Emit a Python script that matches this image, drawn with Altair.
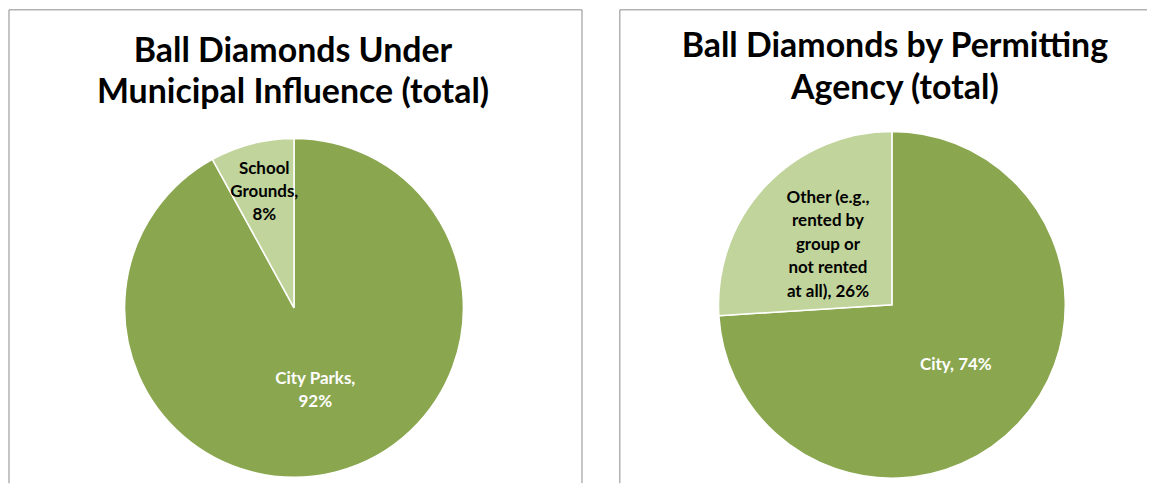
import altair as alt
import pandas as pd

# ---- data ----
left_title = ["Ball Diamonds Under", "Municipal Influence (total)"]
left_cats = ["City Parks", "School Grounds"]
left_label_text = ["City Parks,\n", "School\nGrounds,\n"]
left_vals = [92, 8]

right_title = ["Ball Diamonds by Permitting", "Agency (total)"]
right_cats = ["City", "Other"]
right_label_text = ["City, ", "Other (e.g.,\nrented by\ngroup or\nnot rented\nat all),  "]
right_vals = [74, 26]

DARK = "#8AA64F"
LIGHT = "#C0D49B"
BORDER = "#8C8C8C"
FONT = "Lato"
LH = 23.5

PW_L, PW_R, PH = 575, 529, 475


def panel(title, cats, label_text, vals, width, cx, cy, r, label_r, small_cat, right_border, tx, ty):
    df = pd.DataFrame({
        "i": list(range(len(cats))),
        "cat": cats,
        "label": label_text,
        "value": vals,
    })
    base = alt.Chart(df)
    theta = alt.Theta("value:Q", stack=True)
    order = alt.Order("i:Q")
    arc = base.mark_arc(stroke="white", strokeWidth=1.5).encode(
        theta=theta,
        order=order,
        color=alt.Color("cat:N", scale=alt.Scale(domain=cats, range=[DARK, LIGHT]), legend=None),
        radius=alt.value(r),
        x=alt.value(cx),
        y=alt.value(cy),
    )
    txt = base.transform_joinaggregate(
        total="sum(value)"
    ).transform_window(
        cum="sum(value)", sort=[alt.SortField("i")]
    ).transform_calculate(
        lines="split(datum.label + datum.value + '%', '\\n')",
    ).transform_calculate(
        mid="(datum.cum - datum.value / 2) / datum.total * 2 * PI",
        lr=f"datum.cat == '{small_cat}' ? {label_r[1]} : {label_r[0]}",
        tc=f"datum.cat == '{small_cat}' ? 'black' : 'white'",
        nl="length(datum.lines)",
    ).transform_calculate(
        px=f"{cx} + datum.lr * sin(datum.mid)",
        py=f"{cy} - datum.lr * cos(datum.mid) - (datum.nl - 1) * {LH} / 2",
    ).mark_text(font=FONT, fontWeight="bold", fontSize=17, lineHeight=LH,
                align="center", baseline="middle").encode(
        text="lines:N",
        x=alt.X("px:Q", scale=None, axis=None),
        y=alt.Y("py:Q", scale=None, axis=None),
        color=alt.Color("tc:N", scale=None),
    )
    tdf = pd.DataFrame({"t": [title]})
    ttl = alt.Chart(tdf).mark_text(font=FONT, fontWeight="bold", fontSize=34, lineHeight=42,
                                   align="center", baseline="middle", color="black").encode(
        text="t:N", x=alt.value(tx), y=alt.value(ty),
    )
    bdf = pd.DataFrame({"d": [0]})
    rules = [
        alt.Chart(bdf).mark_rule(color=BORDER, strokeWidth=1).encode(
            x=alt.value(0), x2=alt.value(width), y=alt.value(0)),
        alt.Chart(bdf).mark_rule(color=BORDER, strokeWidth=1).encode(
            x=alt.value(0), y=alt.value(0), y2=alt.value(PH)),
    ]
    if right_border:
        rules.append(alt.Chart(bdf).mark_rule(color=BORDER, strokeWidth=1).encode(
            x=alt.value(width), y=alt.value(0), y2=alt.value(PH)))
    return alt.layer(*rules, arc, txt, ttl).properties(width=width, height=PH)


left = panel(left_title, left_cats, left_label_text, left_vals, PW_L, 286, 299, 170, (86, 120),
             "School Grounds", True, 285, 42)
right = panel(right_title, right_cats, right_label_text, right_vals, PW_R, 273, 296, 174, (88, 88),
              "Other", False, 276, 37)

chart = alt.hconcat(left, right, spacing=36).properties(padding=0, background="white").configure_view(stroke=None)

chart.save("out.html", embed_options={"renderer": "svg", "actions": False})
